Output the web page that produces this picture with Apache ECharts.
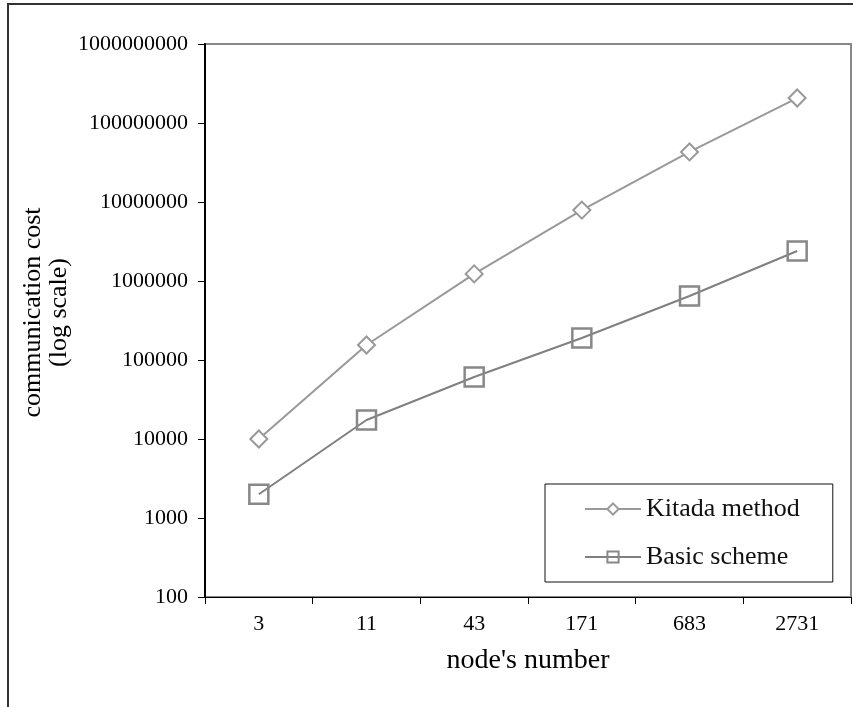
<!DOCTYPE html>
<html>
<head>
<meta charset="utf-8">
<script src="https://cdn.jsdelivr.net/npm/echarts@6/dist/echarts.min.js"></script>
<style>
  html, body { margin: 0; padding: 0; background: #fff; }
  #chart { width: 853px; height: 707px; }
</style>
</head>
<body>
<div id="chart"></div>
<script>
// node counts on the x axis
const nodes = ['3', '11', '43', '171', '683', '2731']
// communication cost
const kitada = [10000, 155000, 1230000, 7900000, 43000000, 207000000]
const basic = [2000, 17400, 61000, 190000, 646000, 2400000]

const serif = '"Liberation Serif", "DejaVu Serif", serif'

const chart = echarts.init(document.getElementById('chart'))
chart.setOption({
  animation: false,
  backgroundColor: '#fff',
  textStyle: { fontFamily: serif },
  graphic: [
    {
      type: 'rect',
      shape: { x: 8, y: 4, width: 900, height: 760 },
      style: { fill: 'none', stroke: '#333', lineWidth: 2 },
      z: 0
    }
  ],
  grid: {
    left: 205,
    top: 44,
    right: 2,
    bottom: 110,
    show: true,
    borderColor: '#888',
    borderWidth: 2,
    backgroundColor: 'transparent'
  },
  legend: {
    left: 545,
    top: 484,
    orient: 'vertical',
    itemWidth: 56,
    itemHeight: 14,
    itemGap: 22,
    padding: [12, 33, 12, 39],
    borderColor: '#111',
    borderWidth: 1,
    textStyle: { fontSize: 26, color: '#111', fontFamily: serif },
    data: ['Kitada method', 'Basic scheme']
  },
  xAxis: {
    type: 'category',
    data: nodes,
    boundaryGap: true,
    name: "node's number",
    nameLocation: 'middle',
    nameGap: 50,
    nameTextStyle: { fontSize: 28, color: '#000', fontFamily: serif },
    axisLine: { lineStyle: { color: '#000', width: 1 } },
    axisTick: { show: true, length: 7, lineStyle: { color: '#000' } },
    axisLabel: { fontSize: 22, color: '#000', margin: 16, fontFamily: serif },
    splitLine: { show: false }
  },
  yAxis: {
    type: 'log',
    logBase: 10,
    min: 100,
    max: 1000000000,
    name: 'communication cost\n(log scale)',
    nameLocation: 'middle',
    nameGap: 133,
    nameMoveOverlap: false,
    nameRotate: 90,
    nameTextStyle: { fontSize: 26, color: '#000', lineHeight: 26, fontFamily: serif, padding: [0, 0, 0, 16] },
    axisLine: { show: true, lineStyle: { color: '#000', width: 2 } },
    axisTick: { show: true, length: 7, lineStyle: { color: '#000' } },
    axisLabel: {
      fontSize: 22,
      color: '#000',
      margin: 17,
      fontFamily: serif,
      formatter: (v) => String(Math.round(v))
    },
    splitLine: { show: false }
  },
  series: [
    {
      name: 'Kitada method',
      type: 'line',
      data: kitada,
      symbol: 'diamond',
      symbolSize: 17,
      lineStyle: { color: '#999', width: 2 },
      itemStyle: { color: '#fff', borderColor: '#999', borderWidth: 2 },
      z: 3
    },
    {
      name: 'Basic scheme',
      type: 'line',
      data: basic,
      symbol: 'rect',
      symbolSize: 19,
      lineStyle: { color: '#808080', width: 2 },
      itemStyle: { color: 'rgba(255,255,255,0)', borderColor: '#888', borderWidth: 2.5 },
      z: 3
    }
  ]
})
</script>
</body>
</html>
